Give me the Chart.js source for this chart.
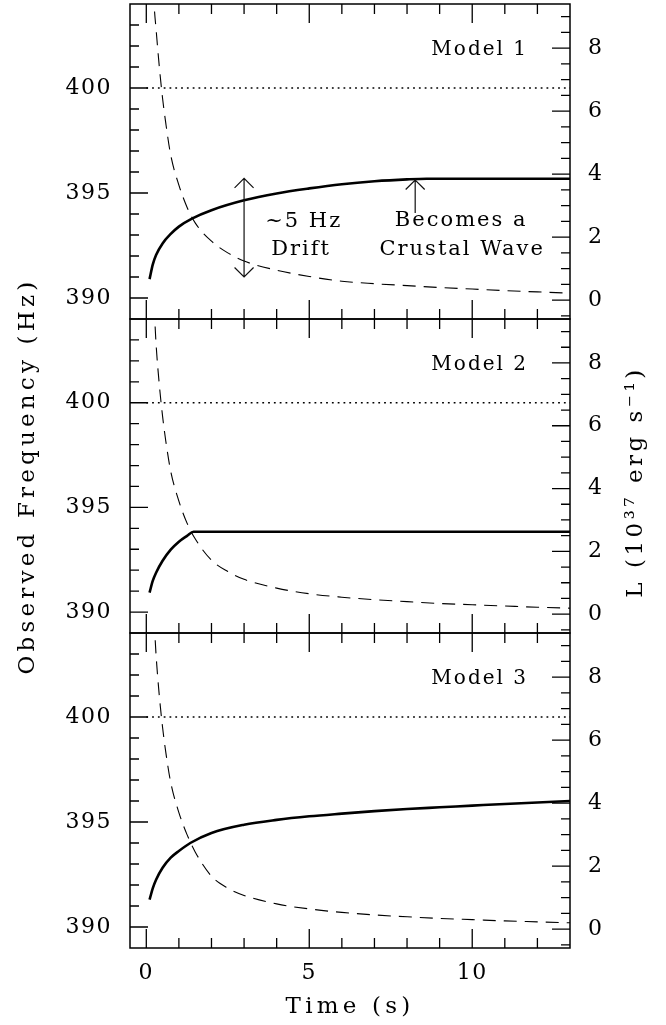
<!DOCTYPE html>
<html><head><meta charset="utf-8">
<script src="https://cdn.jsdelivr.net/npm/chart.js@4.4.0/dist/chart.umd.min.js"></script>
<style>
html,body{margin:0;padding:0;background:#fff;}
#wrap{position:relative;width:666px;height:1025px;overflow:hidden;background:#fff;}
canvas{position:absolute;left:0;}
</style></head><body>
<div id="wrap">
<canvas id="c1" width="666" height="330" style="top:0px"></canvas>
<canvas id="c2" width="666" height="450" style="top:250px"></canvas>
<canvas id="c3" width="666" height="405" style="top:620px"></canvas>
</div>
<script>
// ---- axes / tick labels ----
const timeTicks = [0, 5, 10];
const freqTicks = [390, 395, 400];
const lumTicks = [0, 2, 4, 6, 8];
const timeRange = [-0.5, 13];
const freqRange = [389, 404];
const lumRange = [-0.6, 9.4];
const modelNames = ['Model 1', 'Model 2', 'Model 3'];

// ---- dotted 400 Hz reference ----
const spinTime = [0, 13];
const spinFreq = [400, 400];

// ---- observed frequency (solid) ----
const m1Time = [0.1, 0.2, 0.3, 0.5, 0.75, 1.0, 1.4, 2.0, 3.0, 4.0, 5.0, 6.0, 7.0, 8.0, 8.6, 13];
const m1Freq = [390.9, 391.6, 392.05, 392.6, 393.05, 393.4, 393.78, 394.18, 394.65, 394.98, 395.22, 395.42, 395.56, 395.65, 395.68, 395.68];
const m2Time = [0.1, 0.2, 0.3, 0.5, 0.75, 1.0, 1.25, 1.45, 13];
const m2Freq = [390.93, 391.5, 391.88, 392.45, 392.98, 393.36, 393.64, 393.84, 393.84];
const m3Time = [0.1, 0.2, 0.3, 0.5, 0.75, 1.0, 1.35, 2.0, 3.0, 4.0, 5.0, 6.0, 7.0, 8.0, 9.0, 10.0, 11.0, 12.0, 13.0];
const m3Freq = [391.3, 391.85, 392.25, 392.82, 393.3, 393.62, 394.0, 394.48, 394.87, 395.1, 395.27, 395.4, 395.52, 395.62, 395.7, 395.78, 395.86, 395.93, 396.0];

// ---- luminosity (dashed) ----
const lumTime = [0.2, 0.24, 0.3, 0.4, 0.5, 0.6, 0.75, 1.0, 1.25, 1.5, 2.0, 2.5, 3.0, 4.0, 5.0, 6.0, 7.0, 8.0, 9.0, 10.0, 11.0, 12.0, 13.0];
const m1Lum = [10.5, 9.4, 8.6, 7.4, 6.4, 5.6, 4.6, 3.65, 2.95, 2.45, 1.87, 1.5, 1.24, 0.95, 0.75, 0.6, 0.52, 0.46, 0.4, 0.35, 0.3, 0.26, 0.22];
const m2Lum = [10.5, 9.8, 8.6, 7.3, 6.3, 5.5, 4.55, 3.6, 2.9, 2.4, 1.72, 1.36, 1.11, 0.83, 0.65, 0.54, 0.46, 0.4, 0.34, 0.3, 0.26, 0.22, 0.19];
const m3Lum = [10.5, 9.8, 8.7, 7.4, 6.4, 5.6, 4.65, 3.7, 3.0, 2.45, 1.68, 1.3, 1.07, 0.8, 0.64, 0.53, 0.45, 0.39, 0.34, 0.3, 0.26, 0.23, 0.2];

// ---- annotations (panel 1) ----
const driftArrowTime = [3, 3];
const driftArrowFreq = [391.0, 395.7];
const crustArrowTime = [8.25, 8.25];
const crustArrowFreq = [394.05, 395.62];
const driftText = ['~5 Hz', 'Drift'];
const driftTextTime = [4.8, 4.72];
const driftTextFreq = [393.62, 392.33];
const crustText = ['Becomes a', 'Crustal Wave'];
const crustTextTime = [9.63, 9.66];
const crustTextFreq = [393.67, 392.33];

const FONT = "'DejaVu Serif', 'Liberation Serif', serif";
const pts = (xs, ys) => xs.map((x, i) => ({x, y: ys[i]}));

function buildDatasets(ft, fv, lv) {
  return [
    {data: pts(spinTime, spinFreq), yAxisID: 'y', borderColor: '#000', borderWidth: 1.5, borderDash: [1.8, 4], pointRadius: 0, fill: false},
    {data: pts(lumTime, lv), yAxisID: 'y2', borderColor: '#000', borderWidth: 1.1, borderDash: [13, 8], pointRadius: 0, fill: false, cubicInterpolationMode: 'monotone'},
    {data: pts(ft, fv), yAxisID: 'y', borderColor: '#000', borderWidth: 2.6, pointRadius: 0, fill: false, cubicInterpolationMode: 'monotone'}
  ];
}

function noPad(s) {
  s.paddingTop = 0; s.paddingBottom = 0; s.paddingLeft = 0; s.paddingRight = 0;
}

const framePlugin = {
  id: 'frameTicks',
  beforeDraw(chart) { chart.ctx.letterSpacing = '4.2px'; },
  afterDatasetsDraw(chart) { chart.ctx.letterSpacing = '1.5px'; },
  afterDraw(chart) {
    const {ctx, chartArea: a, scales} = chart;
    ctx.save();
    ctx.letterSpacing = '0px';
    ctx.strokeStyle = '#000';
    ctx.lineWidth = 1.5;
    ctx.strokeRect(a.left, a.top, a.right - a.left, a.bottom - a.top);
    ctx.lineWidth = 1.3;
    ctx.beginPath();
    for (let v = Math.ceil(timeRange[0]); v < timeRange[1]; v++) {
      const len = timeTicks.includes(v) ? 19 : 10;
      const px = scales.x.getPixelForValue(v);
      ctx.moveTo(px, a.bottom); ctx.lineTo(px, a.bottom - len);
      ctx.moveTo(px, a.top); ctx.lineTo(px, a.top + len);
    }
    for (let v = freqRange[0] + 1; v < freqRange[1]; v++) {
      const len = freqTicks.includes(v) ? 18 : 9;
      const py = scales.y.getPixelForValue(v);
      ctx.moveTo(a.left, py); ctx.lineTo(a.left + len, py);
    }
    for (let k = -1; k * 0.5 < lumRange[1]; k++) {
      const v = k * 0.5;
      const len = lumTicks.includes(v) ? 18 : 9;
      const py = scales.y2.getPixelForValue(v);
      ctx.moveTo(a.right, py); ctx.lineTo(a.right - len, py);
    }
    ctx.stroke();
    ctx.restore();
  }
};

function arrowHead(ctx, px, py, dir) {
  ctx.moveTo(px - 9.5, py - dir * 9.5);
  ctx.lineTo(px, py);
  ctx.lineTo(px + 9.5, py - dir * 9.5);
}

function annotPlugin(idx) {
  return {
    id: 'annot' + idx,
    afterDraw(chart) {
      const {ctx, chartArea: a, scales: {x, y}} = chart;
      ctx.save();
      ctx.fillStyle = '#000';
      ctx.strokeStyle = '#111';
      ctx.font = '20px ' + FONT;
      ctx.letterSpacing = '2px';
      ctx.textAlign = 'right';
      ctx.textBaseline = 'middle';
      ctx.fillText(modelNames[idx], a.right - 42, a.top + 46);
      if (idx === 0) {
        ctx.lineWidth = 1.2;
        ctx.beginPath();
        const dx = x.getPixelForValue(driftArrowTime[0]);
        const dy0 = y.getPixelForValue(driftArrowFreq[0]);
        const dy1 = y.getPixelForValue(driftArrowFreq[1]);
        ctx.moveTo(dx, dy0); ctx.lineTo(dx, dy1);
        arrowHead(ctx, dx, dy1, -1);
        arrowHead(ctx, dx, dy0, 1);
        const cx = x.getPixelForValue(crustArrowTime[0]);
        const cy0 = y.getPixelForValue(crustArrowFreq[0]);
        const cy1 = y.getPixelForValue(crustArrowFreq[1]);
        ctx.moveTo(cx, cy0); ctx.lineTo(cx, cy1);
        arrowHead(ctx, cx, cy1, -1);
        ctx.stroke();
        ctx.textAlign = 'center';
        ctx.font = '21px ' + FONT;
        driftText.forEach((t, i) => ctx.fillText(t, x.getPixelForValue(driftTextTime[i]) + 1, y.getPixelForValue(driftTextFreq[i])));
        crustText.forEach((t, i) => ctx.fillText(t, x.getPixelForValue(crustTextTime[i]) + 1, y.getPixelForValue(crustTextFreq[i])));
      }
      if (idx === 1) {
        ctx.font = '23px ' + FONT;
        ctx.letterSpacing = '3.5px';
        ctx.textAlign = 'center';
        ctx.translate(chart.width - 30, (a.top + a.bottom) / 2 + 6);
        ctx.rotate(-Math.PI / 2);
        ctx.fillText('L (10\u00B3\u2077 erg s\u207B\u00B9)', 0, 0);
      }
      ctx.restore();
    }
  };
}

function makeChart(id, idx, ft, fv, lv, cfg) {
  const tickFont = {family: FONT, size: 22};
  return new Chart(document.getElementById(id), {
    type: 'line',
    data: {datasets: buildDatasets(ft, fv, lv)},
    options: {
      responsive: false, animation: false, devicePixelRatio: 1,
      layout: {autoPadding: false, padding: {top: cfg.padTop, bottom: cfg.padBottom, left: 0, right: 0}},
      plugins: {legend: {display: false}, tooltip: {enabled: false}},
      scales: {
        x: {
          type: 'linear', min: timeRange[0], max: timeRange[1], display: cfg.showX,
          grid: {display: false, drawTicks: false}, border: {display: false},
          afterBuildTicks: s => { s.ticks = timeTicks.map(v => ({value: v})); },
          ticks: {z: 1, color: '#000', font: tickFont, padding: 12, maxRotation: 0, autoSkip: false},
          title: {display: cfg.showX, text: 'Time (s)', color: '#000', font: {family: FONT, size: 23}, padding: {top: 0, bottom: 4}},
          afterFit: s => { if (cfg.showX) s.height = 77; noPad(s); }
        },
        y: {
          type: 'linear', position: 'left', min: freqRange[0], max: freqRange[1],
          grid: {display: false, drawTicks: false}, border: {display: false},
          afterBuildTicks: s => { s.ticks = freqTicks.map(v => ({value: v})); },
          ticks: {z: 1, color: '#000', font: tickFont, padding: 18},
          title: {display: cfg.showYTitle, text: 'Observed Frequency (Hz)', color: '#000', font: {family: FONT, size: 23}, padding: {top: 14, bottom: 0}},
          afterFit: s => { s.width = 130; noPad(s); }
        },
        y2: {
          type: 'linear', position: 'right', min: lumRange[0], max: lumRange[1],
          grid: {display: false, drawTicks: false}, border: {display: false},
          afterBuildTicks: s => { s.ticks = lumTicks.map(v => ({value: v})); },
          ticks: {z: 1, color: '#000', font: tickFont, padding: 18},
          afterFit: s => { s.width = 96; noPad(s); }
        }
      }
    },
    plugins: [framePlugin, annotPlugin(idx)]
  });
}

makeChart('c1', 0, m1Time, m1Freq, m1Lum, {padTop: 4, padBottom: 11, showX: false, showYTitle: false});
makeChart('c2', 1, m2Time, m2Freq, m2Lum, {padTop: 69, padBottom: 67, showX: false, showYTitle: true});
makeChart('c3', 2, m3Time, m3Freq, m3Lum, {padTop: 13, padBottom: 0, showX: true, showYTitle: false});
</script>
</body></html>
